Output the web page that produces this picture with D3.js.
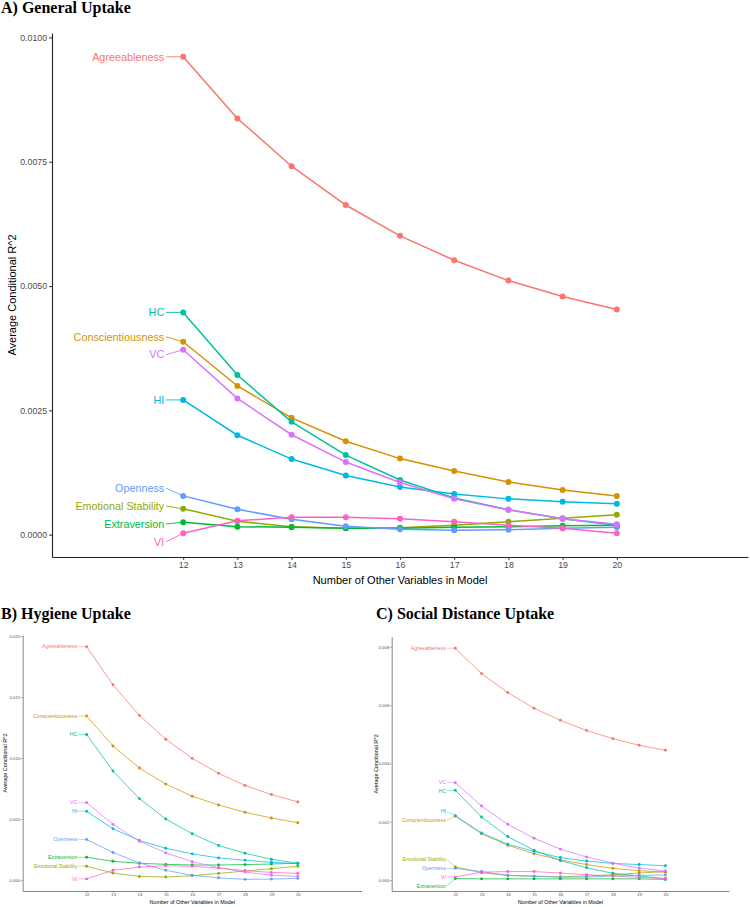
<!DOCTYPE html>
<html>
<head>
<meta charset="utf-8">
<script src="https://cdn.jsdelivr.net/npm/d3@7"></script>
<style>
  body { margin: 0; background: #fff; }
  svg { display: block; }
</style>
</head>
<body>
<svg id="chart" width="750" height="907"></svg>
<script>
// Traits (alphabetical, the order ggplot uses for colours)
const traits = ["Agreeableness", "Conscientiousness", "Emotional Stability", "Extraversion",
  "HC", "HI", "Openness", "VC", "VI"];
const numVars = [12, 13, 14, 15, 16, 17, 18, 19, 20];

// A) General uptake, one row per trait
const generalUptake = [
  [0.00961, 0.00837, 0.00741, 0.00663, 0.00601, 0.00552, 0.00511, 0.00479, 0.00453],
  [0.00388, 0.00299, 0.00235, 0.00188, 0.00153, 0.00128, 0.00106, 0.00090, 0.00078],
  [0.00052, 0.00027, 0.00016, 0.00013, 0.00014, 0.00019, 0.00026, 0.00033, 0.00040],
  [0.00025, 0.00016, 0.00015, 0.00013, 0.00013, 0.00015, 0.00016, 0.00018, 0.00019],
  [0.00447, 0.00321, 0.00227, 0.00160, 0.00110, 0.00074, 0.00050, 0.00032, 0.00019],
  [0.00271, 0.00200, 0.00152, 0.00119, 0.00096, 0.00082, 0.00072, 0.00066, 0.00062],
  [0.00078, 0.00051, 0.00031, 0.00017, 0.00011, 0.00009, 0.00010, 0.00013, 0.00015],
  [0.00372, 0.00274, 0.00201, 0.00146, 0.00105, 0.00072, 0.00050, 0.00032, 0.00021],
  [0.00003, 0.00028, 0.00035, 0.00035, 0.00032, 0.00026, 0.00019, 0.00013, 0.00003]
];

// B) Hygiene uptake
const hygieneUptake = [
  [0.01914, 0.01601, 0.01350, 0.01155, 0.00998, 0.00875, 0.00776, 0.00701, 0.00641],
  [0.01345, 0.01100, 0.00919, 0.00787, 0.00688, 0.00616, 0.00556, 0.00509, 0.00470],
  [0.00113, 0.00058, 0.00030, 0.00025, 0.00036, 0.00055, 0.00074, 0.00094, 0.00113],
  [0.00187, 0.00154, 0.00138, 0.00129, 0.00124, 0.00124, 0.00127, 0.00132, 0.00138],
  [0.01194, 0.00894, 0.00668, 0.00501, 0.00380, 0.00283, 0.00220, 0.00171, 0.00138],
  [0.00564, 0.00421, 0.00325, 0.00261, 0.00215, 0.00182, 0.00162, 0.00146, 0.00135],
  [0.00333, 0.00226, 0.00140, 0.00080, 0.00039, 0.00019, 0.00006, 0.00008, 0.00014],
  [0.00635, 0.00457, 0.00319, 0.00223, 0.00151, 0.00102, 0.00066, 0.00040, 0.00030],
  [0.00010, 0.00080, 0.00107, 0.00118, 0.00113, 0.00099, 0.00077, 0.00063, 0.00055]
];

// C) Social distance uptake
const socialDistanceUptake = [
  [0.00795, 0.00708, 0.00643, 0.00589, 0.00548, 0.00513, 0.00485, 0.00462, 0.00445],
  [0.00219, 0.00159, 0.00119, 0.00090, 0.00069, 0.00053, 0.00040, 0.00032, 0.00027],
  [0.00045, 0.00025, 0.00016, 0.00013, 0.00011, 0.00014, 0.00018, 0.00024, 0.00029],
  [0.00005, 0.00004, 0.00004, 0.00004, 0.00004, 0.00004, 0.00004, 0.00004, 0.00002],
  [0.00308, 0.00216, 0.00149, 0.00102, 0.00067, 0.00042, 0.00023, 0.00014, 0.00005],
  [0.00221, 0.00161, 0.00123, 0.00098, 0.00077, 0.00065, 0.00057, 0.00053, 0.00049],
  [0.00040, 0.00029, 0.00016, 0.00013, 0.00010, 0.00010, 0.00014, 0.00016, 0.00017],
  [0.00334, 0.00254, 0.00191, 0.00143, 0.00106, 0.00079, 0.00058, 0.00041, 0.00031],
  [0.00010, 0.00027, 0.00029, 0.00029, 0.00024, 0.00018, 0.00014, 0.00009, 0.00005]
];

const generalTicks = [0, 0.0025, 0.005, 0.0075, 0.01];
const hygieneTicks = [0, 0.005, 0.01, 0.015, 0.02];
const socialTicks = [0, 0.002, 0.004, 0.006, 0.008];

// ggplot default hue palette for 9 groups
const color = d3.scaleOrdinal()
  .domain(traits)
  .range(["#F8766D", "#D39200", "#93AA00", "#00BA38", "#00C19F", "#00B9E3", "#619CFF", "#DB72FB", "#FF61C3"]);

const SANS = '"Liberation Sans", Arial, Helvetica, sans-serif';
const SERIF = '"Liberation Serif", "Times New Roman", serif';
const X_DOMAIN = [9.58, 22.42];

const svg = d3.select('#chart');

// push labels apart so they keep a minimum vertical gap (rough ggrepel)
function repel(ys, gap) {
  const order = d3.range(ys.length).sort((a, b) => ys[a] - ys[b]);
  const out = ys.slice();
  for (let it = 0; it < 300; it++) {
    let moved = false;
    for (let k = 1; k < order.length; k++) {
      const a = order[k - 1], b = order[k];
      const d = out[b] - out[a];
      if (d < gap - 0.01) {
        const s = (gap - d) / 2;
        out[a] -= s; out[b] += s;
        moved = true;
      }
    }
    if (!moved) break;
  }
  return out;
}

function drawPanel(cfg, values, yTicks, fmt) {
  const s = cfg.scale;
  const g = svg.append('g');

  const x = d3.scaleLinear().domain(X_DOMAIN).range([cfg.left, cfg.right]);
  const [lo, hi] = d3.extent(values.flat());
  const pad = (hi - lo) * 0.05;
  const y = d3.scaleLinear().domain([lo - pad, hi + pad]).range([cfg.bottom, cfg.top]);

  // Panel title
  svg.append('text')
    .attr('x', cfg.titleX).attr('y', cfg.titleY)
    .attr('font-family', SERIF).attr('font-weight', 'bold')
    .attr('font-size', 16).attr('fill', '#000')
    .text(cfg.title);

  // Axes
  const yAxis = g.append('g')
    .attr('transform', `translate(${cfg.left},0)`)
    .call(d3.axisLeft(y).tickValues(yTicks).tickFormat(d3.format(fmt))
      .tickSize(2.75 * s).tickSizeOuter(0).tickPadding(2.2 * s));
  const xAxis = g.append('g')
    .attr('transform', `translate(0,${cfg.bottom})`)
    .call(d3.axisBottom(x).tickValues(numVars).tickFormat(d3.format('d'))
      .tickSize(2.75 * s).tickSizeOuter(0).tickPadding(2.2 * s));

  [yAxis, xAxis].forEach(ax => {
    ax.select('.domain').attr('stroke', '#222').attr('stroke-width', 1.1 * s);
    ax.selectAll('.tick line').attr('stroke', '#333').attr('stroke-width', 1.1 * s);
    ax.selectAll('.tick text')
      .attr('fill', '#4D4D4D')
      .attr('font-family', SANS)
      .attr('font-size', 8.8 * s);
  });

  // Axis titles
  g.append('text')
    .attr('x', (cfg.left + cfg.right) / 2)
    .attr('y', cfg.bottom + 27 * s)
    .attr('text-anchor', 'middle')
    .attr('font-family', SANS).attr('font-size', 11 * s).attr('fill', '#000')
    .text('Number of Other Variables in Model');
  g.append('text')
    .attr('transform', `translate(${cfg.yTitleX},${(cfg.top + cfg.bottom) / 2}) rotate(-90)`)
    .attr('text-anchor', 'middle')
    .attr('dy', '0.35em')
    .attr('font-family', SANS).attr('font-size', 11 * s).attr('fill', '#000')
    .text('Average Conditional R^2');

  const line = d3.line()
    .x((d, i) => x(numVars[i]))
    .y(d => y(d));

  // Lines and points
  traits.forEach((t, k) => {
    const series = g.append('g');
    series.append('path')
      .datum(values[k])
      .attr('d', line)
      .attr('fill', 'none')
      .attr('stroke', color(t))
      .attr('stroke-width', 1.5 * s);
    series.selectAll('circle')
      .data(values[k])
      .join('circle')
      .attr('cx', (d, i) => x(numVars[i]))
      .attr('cy', d => y(d))
      .attr('r', 3 * s)
      .attr('fill', color(t));
  });

  // Labels on the left of the first point
  const firstX = numVars[0];
  const labelX = x(firstX - 0.35);
  const labelY = repel(values.map(v => y(v[0])), 1.65 * 10.8 * s);
  traits.forEach((t, k) => {
    g.append('line')
      .attr('x1', labelX + 2 * s).attr('y1', labelY[k])
      .attr('x2', x(firstX)).attr('y2', y(values[k][0]))
      .attr('stroke', color(t))
      .attr('stroke-width', 0.9 * s);
    g.append('text')
      .attr('x', labelX).attr('y', labelY[k])
      .attr('dy', '0.35em')
      .attr('text-anchor', 'end')
      .attr('font-family', SANS).attr('font-size', 10.8 * s)
      .attr('fill', color(t))
      .text(t);
  });
}

drawPanel({ title: 'A) General Uptake', titleX: 1, titleY: 13, scale: 1,
  left: 52, right: 748, top: 33, bottom: 557, yTitleX: 12 },
  generalUptake, generalTicks, '.4f');

drawPanel({ title: 'B) Hygiene Uptake', titleX: 1, titleY: 619, scale: 0.49,
  left: 22.7, right: 361.7, top: 635, bottom: 891, yTitleX: 5 },
  hygieneUptake, hygieneTicks, '.3f');

drawPanel({ title: 'C) Social Distance Uptake', titleX: 376, titleY: 619, scale: 0.49,
  left: 391.7, right: 729, top: 636.7, bottom: 891, yTitleX: 376 },
  socialDistanceUptake, socialTicks, '.3f');
</script>
</body>
</html>
